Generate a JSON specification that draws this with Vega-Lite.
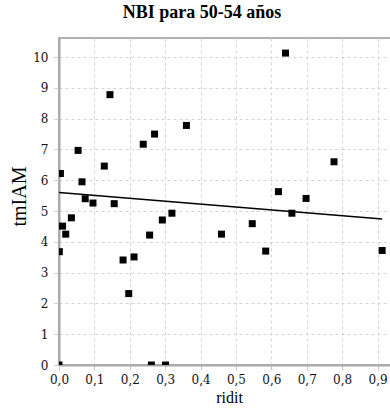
{
  "$schema": "https://vega.github.io/schema/vega-lite/v6.json",
  "width": 332,
  "height": 327,
  "autosize": "none",
  "padding": {"left": 59, "top": 38, "right": 0, "bottom": 47},
  "background": "white",
  "title": {
    "text": "NBI para 50-54 años",
    "font": "Liberation Serif",
    "fontSize": 18,
    "fontWeight": "bold",
    "color": "black",
    "anchor": "middle",
    "dx": -23,
    "dy": 6,
    "baseline": "alphabetic",
    "offset": 8
  },
  "config": {
    "view": {"stroke": "#b0b0b0", "strokeWidth": 2},
    "axis": {
      "labelFont": "DejaVu Serif",
      "labelFontSize": 12,
      "labelColor": "#111",
      "labelOverlap": false,
      "labelFlush": false,
      "titleFont": "Liberation Serif",
      "titleColor": "black",
      "titleFontWeight": "normal",
      "ticks": true,
      "tickSize": 5,
      "tickColor": "#c8c8c8",
      "tickWidth": 1,
      "domainColor": "#a8a8a8",
      "domainWidth": 2,
      "gridColor": "#d4d4d4",
      "gridDash": [3, 3],
      "gridWidth": 1
    }
  },
  "datasets": {
    "points": [
      {"ridit": 0.004, "tmIAM": 6.22},
      {"ridit": 0.01, "tmIAM": 4.51},
      {"ridit": 0.035, "tmIAM": 4.78},
      {"ridit": 0.054, "tmIAM": 6.97},
      {"ridit": 0.065, "tmIAM": 5.95},
      {"ridit": 0.074, "tmIAM": 5.4},
      {"ridit": 0.096, "tmIAM": 5.26},
      {"ridit": 0.128, "tmIAM": 6.46},
      {"ridit": 0.144, "tmIAM": 8.78},
      {"ridit": 0.156, "tmIAM": 5.24},
      {"ridit": 0.238, "tmIAM": 7.17},
      {"ridit": 0.27, "tmIAM": 7.5},
      {"ridit": 0.36, "tmIAM": 7.78},
      {"ridit": 0.292, "tmIAM": 4.71},
      {"ridit": 0.319, "tmIAM": 4.93},
      {"ridit": 0.001, "tmIAM": 3.68},
      {"ridit": 0.019, "tmIAM": 4.25},
      {"ridit": 0.181, "tmIAM": 3.41},
      {"ridit": 0.212, "tmIAM": 3.51},
      {"ridit": 0.197, "tmIAM": 2.32},
      {"ridit": 0.256, "tmIAM": 4.22},
      {"ridit": 0.0, "tmIAM": 0.0},
      {"ridit": 0.261, "tmIAM": 0.0},
      {"ridit": 0.301, "tmIAM": 0.0},
      {"ridit": 0.64, "tmIAM": 10.13},
      {"ridit": 0.777, "tmIAM": 6.6},
      {"ridit": 0.62, "tmIAM": 5.63},
      {"ridit": 0.698, "tmIAM": 5.41},
      {"ridit": 0.658, "tmIAM": 4.93},
      {"ridit": 0.546, "tmIAM": 4.59},
      {"ridit": 0.459, "tmIAM": 4.25},
      {"ridit": 0.584, "tmIAM": 3.7},
      {"ridit": 0.913, "tmIAM": 3.72}
    ],
    "fit": [
      {"ridit": 0.0, "tmIAM": 5.6},
      {"ridit": 0.913, "tmIAM": 4.74}
    ]
  },
  "encoding": {
    "x": {
      "field": "ridit",
      "type": "quantitative",
      "scale": {"domain": [0, 0.938], "nice": false, "zero": false},
      "axis": {
        "values": [0, 0.1, 0.2, 0.3, 0.4, 0.5, 0.6, 0.7, 0.8, 0.9],
        "labelExpr": "replace(format(datum.value, '.1f'), '.', ',')",
        "labelPadding": 4,
        "title": "ridit",
        "titleFontSize": 16,
        "titleX": 170,
        "titleY": 37,
        "titleBaseline": "alphabetic",
        "titleAlign": "center"
      }
    },
    "y": {
      "field": "tmIAM",
      "type": "quantitative",
      "scale": {"domain": [0, 10.62], "nice": false},
      "axis": {
        "values": [0, 1, 2, 3, 4, 5, 6, 7, 8, 9, 10],
        "labelPadding": 6,
        "title": "tmIAM",
        "titleFontSize": 20,
        "titleX": -34,
        "titleY": 158,
        "titleAngle": -90,
        "titleBaseline": "alphabetic",
        "titleAlign": "center"
      }
    }
  },
  "layer": [
    {
      "data": {"name": "points"},
      "mark": {"type": "square", "size": 49, "color": "black", "opacity": 1, "clip": true}
    },
    {
      "data": {"name": "fit"},
      "mark": {"type": "line", "color": "black", "strokeWidth": 1.5}
    }
  ]
}
